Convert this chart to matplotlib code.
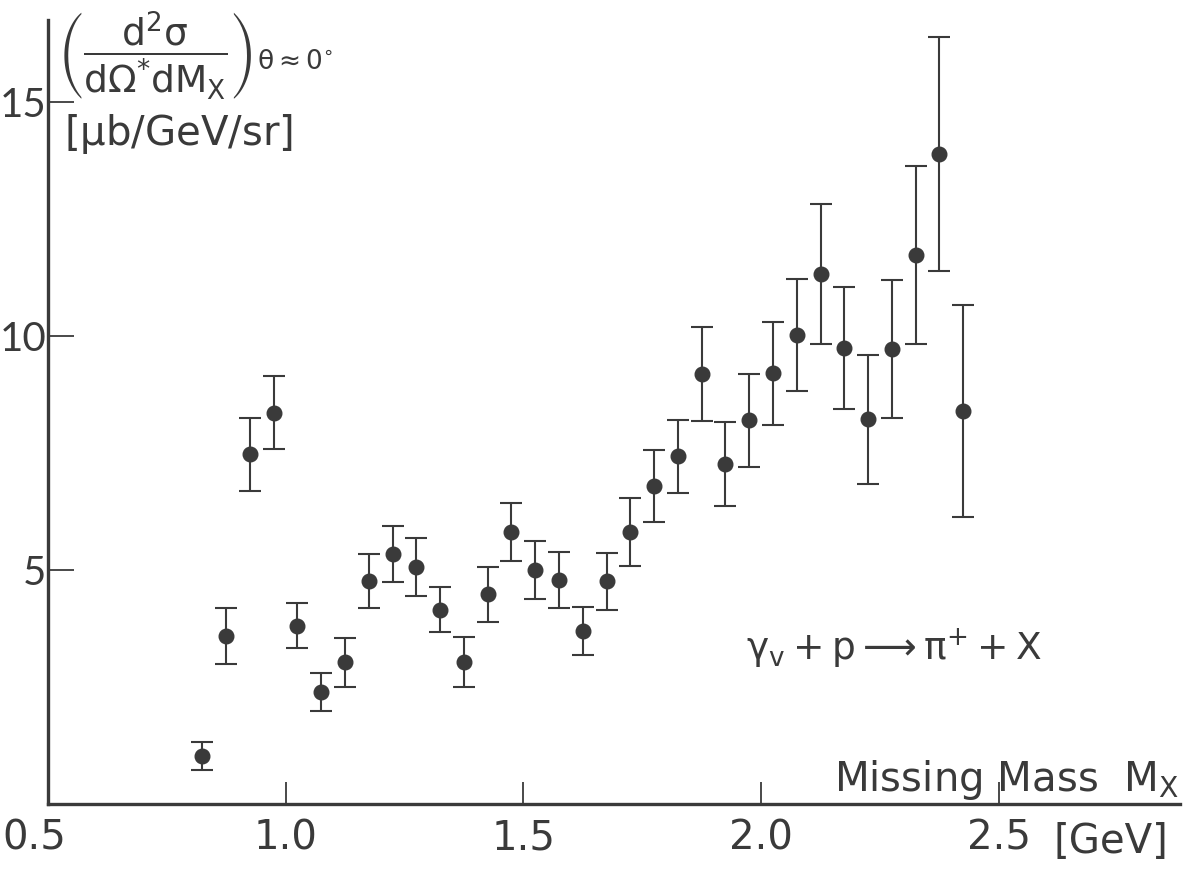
import matplotlib
matplotlib.use("Agg")
import matplotlib.pyplot as plt
from matplotlib.transforms import ScaledTranslation

# Missing-mass spectrum, gamma_v + p -> pi+ + X at theta ~ 0
mass = [0.825, 0.875, 0.925, 0.975, 1.025, 1.075, 1.125, 1.175, 1.225, 1.275,
        1.325, 1.375, 1.425, 1.475, 1.525, 1.575, 1.625, 1.675, 1.725, 1.775,
        1.825, 1.875, 1.925, 1.975, 2.025, 2.075, 2.125, 2.175, 2.225, 2.275,
        2.325, 2.375, 2.425]
xsec = [1.03, 3.60, 7.48, 8.36, 3.81, 2.39, 3.03, 4.77, 5.35, 5.06,
        4.15, 3.03, 4.48, 5.82, 5.00, 4.78, 3.70, 4.76, 5.81, 6.80,
        7.43, 9.19, 7.26, 8.20, 9.21, 10.02, 11.32, 9.75, 8.22, 9.72,
        11.73, 13.89, 8.40]
err = [0.30, 0.60, 0.78, 0.78, 0.48, 0.41, 0.52, 0.57, 0.60, 0.62,
       0.48, 0.53, 0.59, 0.62, 0.62, 0.60, 0.51, 0.61, 0.73, 0.77,
       0.78, 1.00, 0.90, 1.00, 1.10, 1.20, 1.50, 1.30, 1.38, 1.48,
       1.90, 2.50, 2.27]

x_ticks = [0.5, 1.0, 1.5, 2.0, 2.5]
x_ticklabels = ["0.5", "1.0", "1.5", "2.0", "2.5"]
y_ticks = [5, 10, 15]
y_ticklabels = ["5", "10", "15"]

ink = "#3a3a3a"
plt.rcParams["mathtext.fontset"] = "dejavusans"
plt.rcParams["mathtext.default"] = "regular"
plt.rcParams["font.family"] = ["DejaVu Sans"]

fig = plt.figure(figsize=(11.94, 8.75), dpi=100)
ax = fig.add_axes([0.040, 0.081, 0.948, 0.896])

ax.errorbar(mass, xsec, yerr=err, fmt="o", color=ink, ecolor=ink,
            markersize=10.5, elinewidth=1.5, capsize=8, capthick=1.5)

ax.set_xlim(0.5, 2.88)
ax.set_ylim(0, 16.75)

for side in ("top", "right"):
    ax.spines[side].set_visible(False)
for side in ("left", "bottom"):
    ax.spines[side].set_linewidth(2.4)
    ax.spines[side].set_color(ink)

ax.set_xticks(x_ticks)
ax.set_xticklabels(x_ticklabels)
ax.set_yticks(y_ticks)
ax.set_yticklabels(y_ticklabels, family=["Lato", "DejaVu Sans"])
ax.tick_params(axis="x", direction="in", length=16, width=1.3, color=ink,
               labelsize=29, labelcolor=ink, pad=10)
ax.tick_params(axis="y", direction="in", length=19, width=1.3, color=ink,
               labelsize=29, labelcolor=ink, pad=1)

# the origin label sits just left of the corner
first = ax.get_xticklabels()[0]
first.set_transform(first.get_transform()
                    + ScaledTranslation(-0.13, 0, fig.dpi_scale_trans))

# axis titles
ax.text(0.52, 16.97,
        r"$\left(\dfrac{d^2\sigma}{d\Omega^{*}dM_X}\right)_{\theta\approx0^{\circ}}$",
        fontsize=27, color=ink, ha="left", va="top")
ax.text(0.535, 14.78, r"[$\mu$b/GeV/sr]", fontsize=29, color=ink,
        ha="left", va="top")
ax.text(2.88, 0.05, r"Missing Mass  M$_X$", fontsize=29, color=ink,
        ha="right", va="bottom")
ax.text(2.615, -0.38, "[GeV]", fontsize=29, color=ink, ha="left", va="top")

# reaction
ax.text(2.28, 3.33, r"$\gamma_v + p \longrightarrow \pi^{+} + X$",
        fontsize=27, color=ink, ha="center", va="center")

fig.savefig("out.png", dpi=100)
